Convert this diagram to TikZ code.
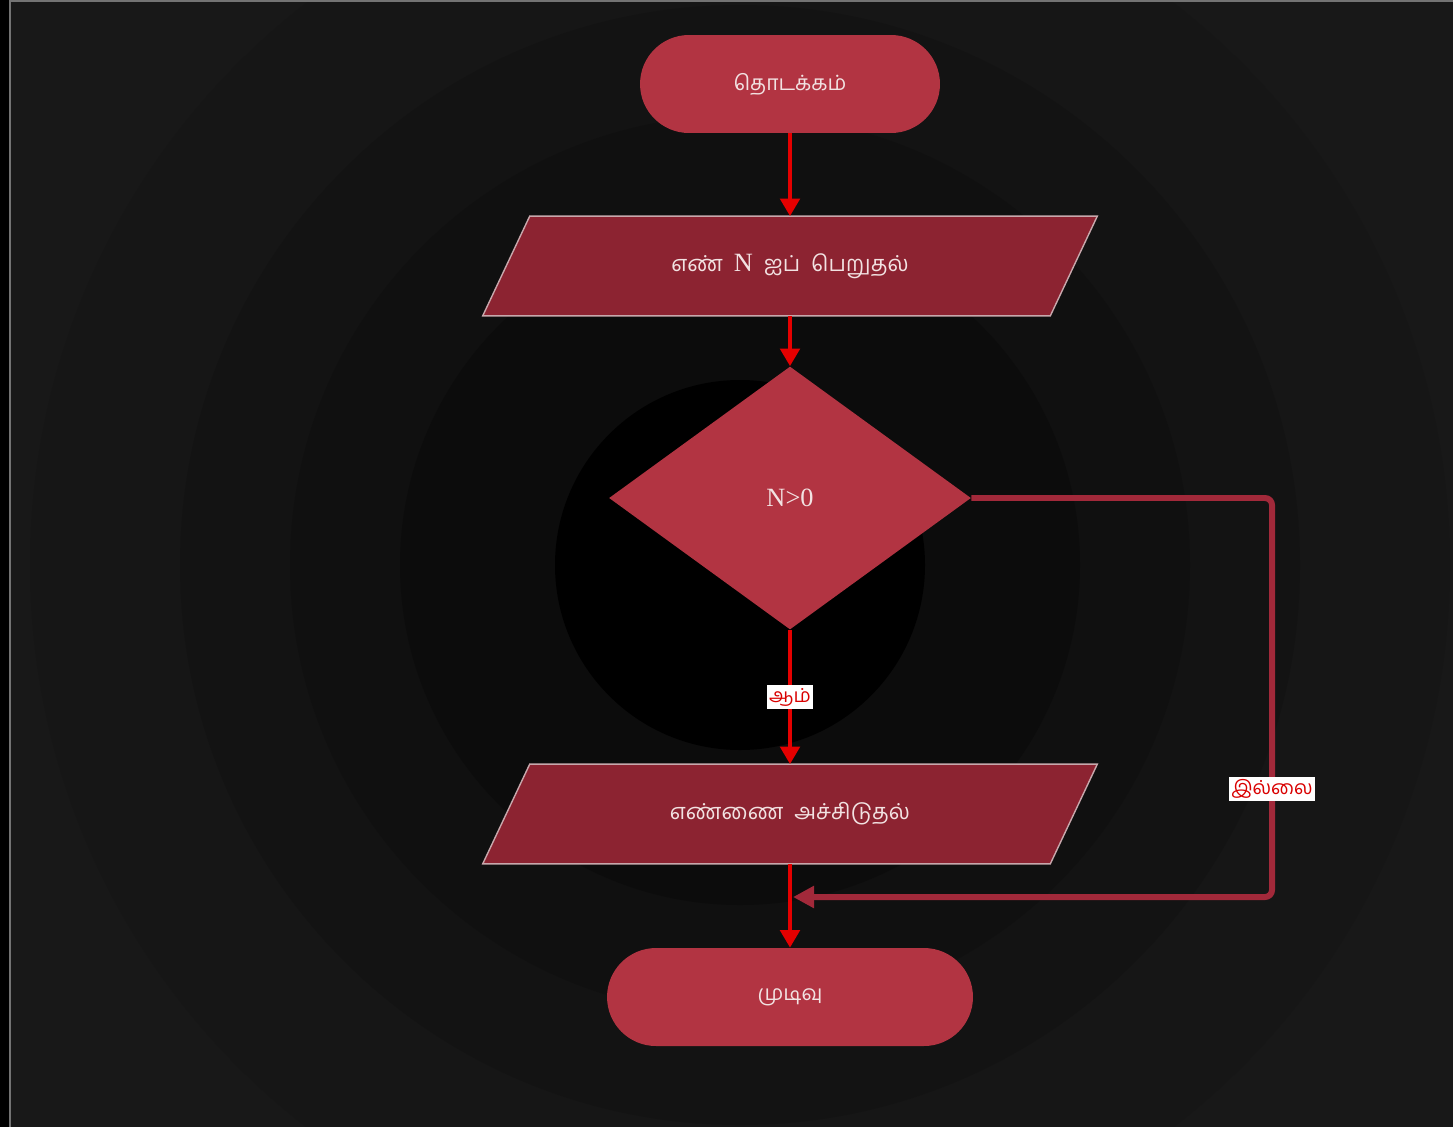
\documentclass[tikz,border=0pt]{standalone}
\usepackage{fontspec}
\setmainfont{Liberation Serif}
\newfontfamily\tamil[Script=Tamil]{Hind Madurai}
\usetikzlibrary{shapes.geometric,arrows.meta}
\definecolor{ringa}{HTML}{181818}
\definecolor{ringb}{HTML}{161616}
\definecolor{ringc}{HTML}{131313}
\definecolor{ringd}{HTML}{101010}
\definecolor{ringe}{HTML}{0C0C0C}
\definecolor{termred}{HTML}{B23442}
\definecolor{ioread}{HTML}{8C2331}
\definecolor{ioedge}{HTML}{C8A8AC}
\definecolor{noline}{HTML}{A2293A}
\definecolor{txtpink}{HTML}{F2E2E2}
\begin{document}
\begin{tikzpicture}[x=0.02cm,y=-0.02cm]
    \tikzstyle{term} = [rectangle,rounded corners=0.98cm,fill=termred,
                        minimum height=1.96cm,inner sep=0pt,
                        text=txtpink,font=\tamil\fontsize{12}{14}\selectfont]
    \tikzstyle{io} = [rectangle,minimum width=12.28cm,minimum height=1.98cm,
                      inner sep=0pt,text=txtpink,font=\fontsize{12.5}{15}\selectfont]
    \tikzstyle{iofill} = [fill=ioread,draw=ioedge,line width=0.8pt]
    \tikzstyle{decide} = [diamond,fill=termred,minimum width=7.24cm,minimum height=5.26cm,
                          inner sep=0pt,text=txtpink,font=\fontsize{15}{17}\selectfont]
    \tikzstyle{flow} = [draw=red!90!black,line width=2.3pt,-{Triangle[width=11pt,length=10pt]}]
    \tikzstyle{back} = [draw=noline,line width=3.4pt,-{Triangle[width=12pt,length=12pt]}]
    \tikzstyle{tag} = [sharp corners,fill=white,text=red!85!black,inner sep=1.5pt,
                       font=\tamil\fontsize{11}{13}\selectfont]

    \useasboundingbox (0,0) rectangle (1453,1126);

    % background with dark rings
    \fill[black] (-10,-10) rectangle (1465,1140);
    \begin{scope}
    \clip (10,1) rectangle (1465,1140);
    \fill[ringa] (10,1) rectangle (1465,1140);
    \fill[ringb] (740,565) circle (710);
    \fill[ringc] (740,565) circle (560);
    \fill[ringd] (740,565) circle (450);
    \fill[ringe] (740,565) circle (340);
    \fill[black] (740,565) circle (185);
    \end{scope}
    \draw[black!55,line width=0.6pt] (10,1140) -- (10,1) -- (1465,1);

    % flowchart boxes
    \node[term,minimum width=6cm] (start) at (790,84) {தொடக்கம்};
    \node[io] (getn) at (790,266) {};
    \node[decide] (check) at (790,498) {N>0};
    \node[io] (shown) at (790,814) {};
    \node[term,minimum width=7.32cm] (stop) at (790,997) {முடிவு};

    % slanted input / output boxes
    \filldraw[iofill] ([xshift=0.94cm]getn.north west) -- (getn.north east)
                      -- ([xshift=-0.94cm]getn.south east) -- (getn.south west) -- cycle;
    \filldraw[iofill] ([xshift=0.94cm]shown.north west) -- (shown.north east)
                      -- ([xshift=-0.94cm]shown.south east) -- (shown.south west) -- cycle;
    \path[text=txtpink,font=\fontsize{12.5}{15}\selectfont]
            (getn) node {{\tamil எண்}\enspace{\fontsize{15}{17}\selectfont N}\enspace{\tamil ஐப்}\enspace{\tamil பெறுதல்}}
            (shown) node {{\tamil எண்ணை}\enspace{\tamil அச்சிடுதல்}};

    \coordinate (rtop) at (1272,498);
    \coordinate (rbot) at (1272,897);
    \coordinate (merge) at (793,897);

    % connectors
    \draw[back,rounded corners=4pt] (check.east) -- (rtop) -- (rbot)
          node[tag,pos=0.73] {இல்லை} -- (merge);
    \draw[flow] (start) -- (getn);
    \draw[flow] (getn) -- (check);
    \draw[flow] (check) -- node[tag] {ஆம்} (shown);
    \draw[flow] (shown) -- (stop);
\end{tikzpicture}
\end{document}
